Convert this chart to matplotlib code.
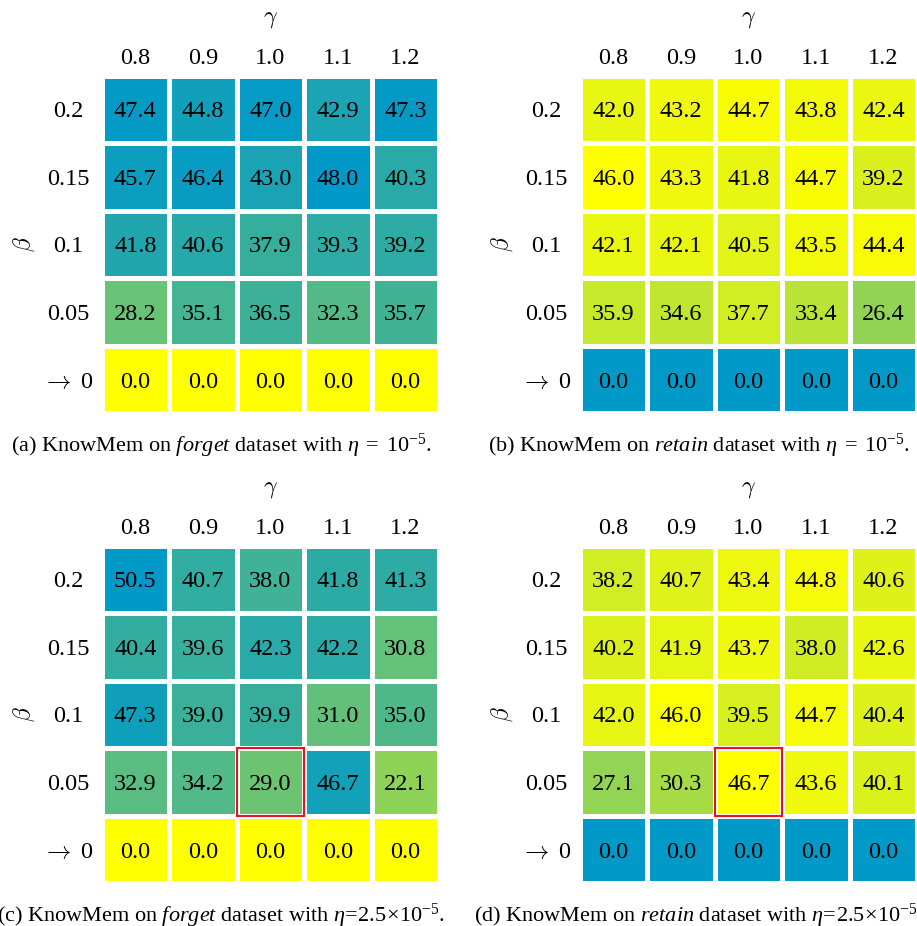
import numpy as np
import matplotlib.pyplot as plt
from matplotlib.colors import LinearSegmentedColormap
from matplotlib.patches import Rectangle

plt.rcParams['font.family'] = ['Liberation Serif', 'DejaVu Serif']
plt.rcParams['mathtext.fontset'] = 'custom'
plt.rcParams['mathtext.rm'] = 'Liberation Serif'
plt.rcParams['mathtext.it'] = 'Liberation Serif:italic'

# axis values
gamma_labels = ['0.8', '0.9', '1.0', '1.1', '1.2']
beta_labels = ['0.2', '0.15', '0.1', '0.05', r'$\rightarrow$ 0']

# KnowMem scores (rows: beta, cols: gamma)
forget_a = [[47.4, 44.8, 47.0, 42.9, 47.3],
            [45.7, 46.4, 43.0, 48.0, 40.3],
            [41.8, 40.6, 37.9, 39.3, 39.2],
            [28.2, 35.1, 36.5, 32.3, 35.7],
            [0.0, 0.0, 0.0, 0.0, 0.0]]
retain_b = [[42.0, 43.2, 44.7, 43.8, 42.4],
            [46.0, 43.3, 41.8, 44.7, 39.2],
            [42.1, 42.1, 40.5, 43.5, 44.4],
            [35.9, 34.6, 37.7, 33.4, 26.4],
            [0.0, 0.0, 0.0, 0.0, 0.0]]
forget_c = [[50.5, 40.7, 38.0, 41.8, 41.3],
            [40.4, 39.6, 42.3, 42.2, 30.8],
            [47.3, 39.0, 39.9, 31.0, 35.0],
            [32.9, 34.2, 29.0, 46.7, 22.1],
            [0.0, 0.0, 0.0, 0.0, 0.0]]
retain_d = [[38.2, 40.7, 43.4, 44.8, 40.6],
            [40.2, 41.9, 43.7, 38.0, 42.6],
            [42.0, 46.0, 39.5, 44.7, 40.4],
            [27.1, 30.3, 46.7, 43.6, 40.1],
            [0.0, 0.0, 0.0, 0.0, 0.0]]

captions = [r'(a) KnowMem on $\mathit{forget}$ dataset with $\eta\;=\;10^{-5}$.',
            r'(b) KnowMem on $\mathit{retain}$ dataset with $\eta\;=\;10^{-5}$.',
            r'(c) KnowMem on $\mathit{forget}$ dataset with $\eta\!=\!2.5\!\times\!10^{-5}$.',
            r'(d) KnowMem on $\mathit{retain}$ dataset with $\eta\!=\!2.5\!\times\!10^{-5}$.']
highlight = [None, None, (3, 2), (3, 2)]  # (row, col)

cmap = LinearSegmentedColormap.from_list('yb', ['#ffff00', '#0099c8'])

fig = plt.figure(figsize=(9.17, 9.26), dpi=100)
W, H = 917, 926

panels = [(forget_a, cmap), (retain_b, cmap.reversed()),
          (forget_c, cmap), (retain_d, cmap.reversed())]
offsets = [(0, 0), (478, 0), (0, 470), (478, 470)]

for i, ((data, cm), (dx, dy)) in enumerate(zip(panels, offsets)):
    data = np.array(data)
    left = (101.5 + dx) / W
    bottom = 1 - (413.3 + dy) / H
    ax = fig.add_axes([left, bottom, 337.7 / W, 337.6 / H])
    ax.pcolormesh(data, cmap=cm, vmin=0, vmax=data.max(),
                  edgecolors='white', linewidth=3.3)
    for r in range(data.shape[0]):
        for c in range(data.shape[1]):
            ax.text(c + 0.5, r + 0.5, f'{data[r, c]:.1f}', ha='center',
                    va='center_baseline', fontsize=17.5, color='black')
    if highlight[i] is not None:
        r, c = highlight[i]
        ax.add_patch(Rectangle((c, r), 1, 1, fill=False, edgecolor='#e8141c',
                               linewidth=1.5, zorder=5))
    ax.set_xlim(0, 5)
    ax.set_ylim(5, 0)
    ax.set_xticks(np.arange(5) + 0.5)
    ax.set_xticklabels(gamma_labels, fontsize=17.5)
    ax.set_yticks(np.arange(5) + 0.5)
    ax.set_yticklabels(beta_labels, fontsize=17.5, ha='center')
    for t in ax.get_yticklabels():
        t.set_math_fontfamily('cm')
    ax.xaxis.tick_top()
    ax.tick_params(length=0)
    ax.tick_params(axis='x', pad=5)
    ax.tick_params(axis='y', pad=24)
    for s in ax.spines.values():
        s.set_visible(False)
    ax.xaxis.set_label_position('top')
    ax.set_xlabel(r'$\gamma$', fontsize=17, math_fontfamily='cm')
    ax.xaxis.set_label_coords(0.5, 1.158)
    ax.set_ylabel(r'$\beta$', fontsize=17, math_fontfamily='cm')
    ax.yaxis.set_label_coords(-0.19, 0.5)
    fig.text((221 + dx) / W, 1 - (452 + dy) / H, captions[i], ha='center',
             va='baseline', fontsize=16)

plt.savefig('out.png', dpi=100)
